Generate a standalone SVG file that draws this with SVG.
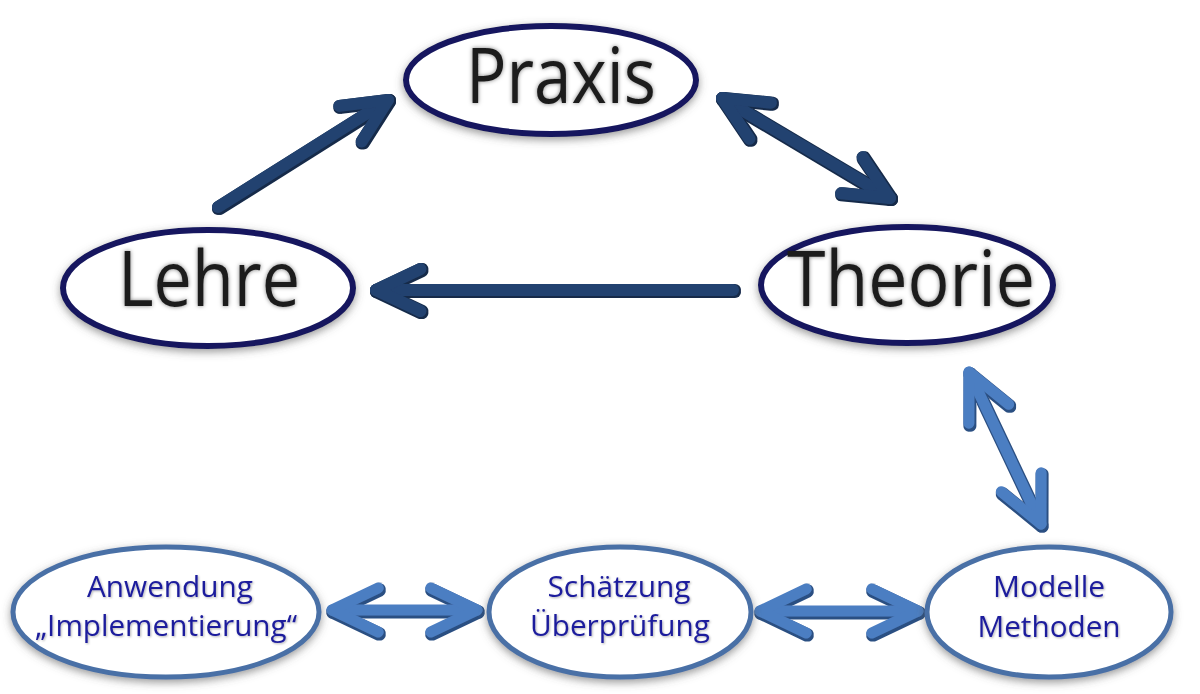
<svg xmlns="http://www.w3.org/2000/svg" width="1200" height="694" viewBox="0 0 1200 694">
<style>
.big{fill:#fff;stroke:#16185e;stroke-width:6;filter:url(#glow)}
.small{fill:#fff;stroke:#4a70a6;stroke-width:5;filter:url(#glow)}
.bt{font-family:"Open Sans","Liberation Sans",sans-serif;font-size:76px;fill:#1c1c1c;text-anchor:middle;filter:url(#tsh)}
.st{font-family:"Open Sans","Liberation Sans",sans-serif;font-size:29px;fill:#1c1c9c;text-anchor:middle;filter:url(#tsh2)}
.dark{fill:none;stroke:#22426f;stroke-width:12;stroke-linecap:round;stroke-linejoin:round;filter:url(#edged)}
.light{fill:none;stroke:#4c7ec2;stroke-width:11;stroke-linecap:round;stroke-linejoin:round;filter:url(#edgel)}
</style>
<defs>
<filter id="glow" x="-20%" y="-30%" width="140%" height="160%">
<feDropShadow dx="0" dy="3" stdDeviation="4" flood-color="#555" flood-opacity="0.6"/>
</filter>
<filter id="tsh" x="-10%" y="-20%" width="120%" height="140%">
<feDropShadow dx="0" dy="0" stdDeviation="2" flood-color="#000" flood-opacity="0.5"/>
</filter>
<filter id="tsh2" x="-10%" y="-20%" width="120%" height="140%">
<feDropShadow dx="1" dy="1" stdDeviation="1" flood-color="#000" flood-opacity="0.3"/>
</filter>
<filter id="edged" filterUnits="userSpaceOnUse" x="0" y="0" width="1200" height="694">
<feMorphology in="SourceAlpha" operator="dilate" radius="1" result="d"/>
<feFlood flood-color="#142a4a"/>
<feComposite in2="d" operator="in" result="o"/>
<feOffset in="o" dx="1" dy="1" result="o2"/>
<feMerge><feMergeNode in="o2"/><feMergeNode in="SourceGraphic"/></feMerge>
</filter>
<filter id="edgel" filterUnits="userSpaceOnUse" x="0" y="0" width="1200" height="694">
<feMorphology in="SourceAlpha" operator="dilate" radius="1.2" result="d"/>
<feFlood flood-color="#2c4f82"/>
<feComposite in2="d" operator="in" result="o"/>
<feOffset in="o" dx="1" dy="1.5" result="o2"/>
<feMerge><feMergeNode in="o2"/><feMergeNode in="SourceGraphic"/></feMerge>
</filter>
<marker id="hd" viewBox="-5 -3 6 6" markerWidth="6" markerHeight="6" refX="0" refY="0" orient="auto-start-reverse" markerUnits="strokeWidth" overflow="visible">
<path d="M-3.7,-1.75 L0,0 L-3.7,1.75" fill="none" stroke="#22426f" stroke-width="1" stroke-linecap="round" stroke-linejoin="round"/>
</marker>
<marker id="hl" viewBox="-5 -3 6 6" markerWidth="6" markerHeight="6" refX="0" refY="0" orient="auto-start-reverse" markerUnits="strokeWidth" overflow="visible">
<path d="M-4.2,-2 L0,0 L-4.2,2" fill="none" stroke="#4c7ec2" stroke-width="1" stroke-linecap="round" stroke-linejoin="round"/>
</marker>
</defs>
<rect width="1200" height="694" fill="#fff"/>
<g id="connectors">
<path class="dark" d="M218,207 L388,100" marker-end="url(#hd)"/>
<path class="dark" d="M722,98 L890,198" marker-start="url(#hd)" marker-end="url(#hd)"/>
<path class="dark" d="M733,290 L376,290" marker-end="url(#hd)"/>
<path class="light" d="M969,372 L1041,524" marker-start="url(#hl)" marker-end="url(#hl)"/>
<path class="light" d="M332,610 L477,610" marker-start="url(#hl)" marker-end="url(#hl)"/>
<path class="light" d="M760,611 L918,611" marker-start="url(#hl)" marker-end="url(#hl)"/>
</g>
<g id="praxis">
<ellipse class="big" cx="551" cy="80" rx="145" ry="54"/>
<text class="bt" x="561" y="103" textLength="190" lengthAdjust="spacingAndGlyphs">Praxis</text>
</g>
<g id="lehre">
<ellipse class="big" cx="208" cy="288" rx="145" ry="58"/>
<text class="bt" x="209" y="306" textLength="182" lengthAdjust="spacingAndGlyphs">Lehre</text>
</g>
<g id="theorie">
<ellipse class="big" cx="907" cy="285" rx="146" ry="58"/>
<text class="bt" x="911" y="306" textLength="248" lengthAdjust="spacingAndGlyphs">Theorie</text>
</g>
<g id="anwendung">
<ellipse class="small" cx="166" cy="612" rx="153" ry="65"/>
<text class="st" x="170" y="597" textLength="166" lengthAdjust="spacingAndGlyphs">Anwendung</text>
<text class="st" x="166" y="636" textLength="262" lengthAdjust="spacingAndGlyphs">„Implementierung“</text>
</g>
<g id="schaetzung">
<ellipse class="small" cx="620" cy="612" rx="131" ry="65"/>
<text class="st" x="619" y="597" textLength="143" lengthAdjust="spacingAndGlyphs">Schätzung</text>
<text class="st" x="620" y="636" textLength="180" lengthAdjust="spacingAndGlyphs">Überprüfung</text>
</g>
<g id="modelle">
<ellipse class="small" cx="1049" cy="612" rx="122" ry="65"/>
<text class="st" x="1049" y="597" textLength="112" lengthAdjust="spacingAndGlyphs">Modelle</text>
<text class="st" x="1049" y="637" textLength="143" lengthAdjust="spacingAndGlyphs">Methoden</text>
</g>
</svg>
